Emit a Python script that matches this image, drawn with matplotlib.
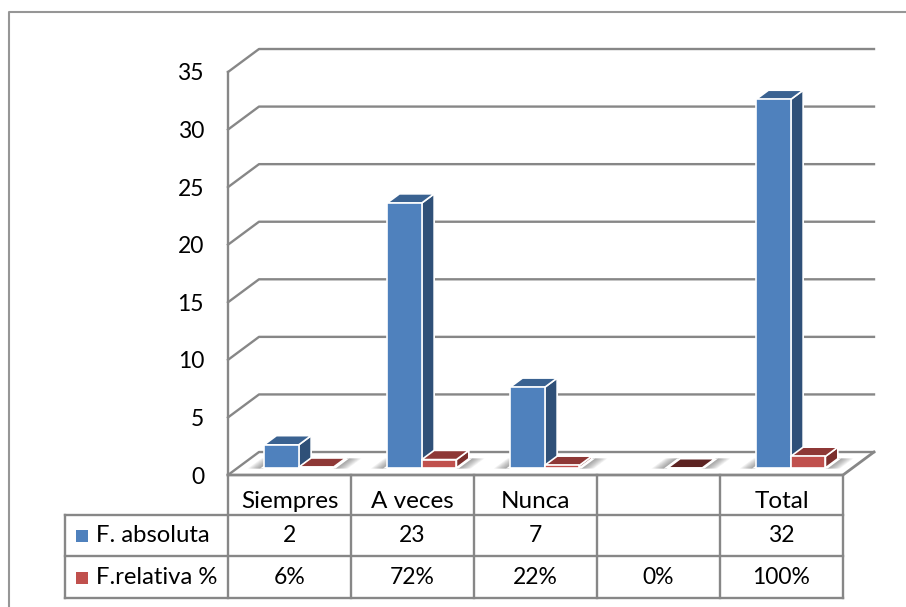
import numpy as np
import matplotlib
matplotlib.use("Agg")
import matplotlib.pyplot as plt
from matplotlib.patches import Polygon, Rectangle

plt.rcParams['font.family'] = ['Lato', 'DejaVu Sans']

categories = ["Siempres", "A veces", "Nunca", "", "Total"]
absoluta = [2, 23, 7, None, 32]
relativa = [0.06, 0.72, 0.22, 0.0, 1.0]
absoluta_labels = ["2", "23", "7", "", "32"]
relativa_labels = ["6%", "72%", "22%", "0%", "100%"]
legend_names = ["F. absoluta", "F.relativa %"]
yticks = [0, 5, 10, 15, 20, 25, 30, 35]

W, H = 906, 607
GRAY = "#878787"
DX = 31 / 123   # depth of the floor, in axis units
DY = 23 / 57.6 * 5
blue = ("#4f81bd", "#3a6291", "#2f5078")
red = ("#c0504d", "#8e3836", "#7b2f2d")

fig = plt.figure(figsize=(W / 100, H / 100), dpi=100)

# page layer in pixels: frame and table
pg = fig.add_axes([0, 0, 1, 1])
pg.set_xlim(0, W)
pg.set_ylim(H, 0)
pg.axis("off")

pg.plot([9, 9, 906], [607, 12, 12], color="#969696", lw=1.5, zorder=1)

col_x = [228, 351, 474, 597, 720, 843]
row_y = [475, 515, 556, 598]
for x in col_x:
    pg.plot([x, x], [475, 598], color=GRAY, lw=1.7)
pg.plot([65, 65], [515, 598], color=GRAY, lw=1.7)
for y in row_y[1:]:
    pg.plot([65, 843], [y, y], color=GRAY, lw=1.7)

fs = 17.5    # words
fn = 16.5    # numbers
for i in range(5):
    cx = (col_x[i] + col_x[i + 1]) / 2
    pg.text(cx, 501, categories[i], ha="center", va="center", fontsize=fs)
    pg.text(cx, 536, absoluta_labels[i], ha="center", va="center", fontsize=fn)
    pg.text(cx, 578, relativa_labels[i], ha="center", va="center", fontsize=fn)
for name, y, c in zip(legend_names, [535.5, 577.5], [blue[0], red[0]]):
    pg.add_patch(Rectangle((76, y - 6), 12, 12, color=c, lw=0))
    pg.text(96, y, name, ha="left", va="center", fontsize=fs - 0.3)

# chart axes sit on the front plane of the 3d box
ax = fig.add_axes([228 / W, (H - 475) / H, 615 / W, 403 / H], facecolor="none")
ax.set_xlim(0, 5)
ax.set_ylim(0, 35)
ax.axis("off")


def pt(x, y, d):
    return (x + d * DX, y + d * DY)


for v in yticks:
    pts = [pt(0, v, 0), pt(0, v, 1), pt(5, v, 1)]
    ax.plot(*zip(*pts), color=GRAY, lw=1.7, clip_on=False, zorder=1)
    ax.annotate(str(v), (0, v), xytext=(-24, -2), textcoords="offset pixels",
                ha="right", va="center", fontsize=fn, annotation_clip=False)
ax.plot([0, 0], [0, 35], color=GRAY, lw=1.7, clip_on=False, zorder=1)
ax.plot(*zip(*[pt(0, 0, 0), pt(5, 0, 0), pt(5, 0, 1)]), color=GRAY, lw=2, clip_on=False, zorder=1)


def shadow(x0, x1):
    # soft grey wedges on the floor either side of a bar group
    d0, d1 = 0.28, 0.72
    for k in range(10):
        g = 0.025 + (9 - k) * 0.011
        for a, b in ((x0 - g, x0), (x1, x1 + g)):
            ax.add_patch(Polygon([pt(a, 0, d0), pt(b, 0, d0), pt(b, 0, d1), pt(a, 0, d1)],
                                 color="#6a6a6a", alpha=0.085, lw=0, clip_on=False, zorder=2))
    # white halo around the bars
    ax.add_patch(Polygon([pt(x0 - 0.025, 0, d0), pt(x1 + 0.025, 0, d0), pt(x1 + 0.025, 0, d1), pt(x0 - 0.025, 0, d1)],
                         color="white", lw=0, clip_on=False, zorder=2.5))


def bar3d(x0, w, v, cols, z):
    d0, d1 = 0.31, 0.71
    if v is None:
        return
    x1 = x0 + w
    e = dict(ec="white", lw=1.2, clip_on=False, zorder=z, joinstyle="round")
    if v == 0:
        ax.add_patch(Polygon([pt(x0, 0, d0), pt(x1, 0, d0), pt(x1, 0, d1), pt(x0, 0, d1)], fc="#5c2322", **e))
        return
    ax.add_patch(Polygon([pt(x1, 0, d0), pt(x1, 0, d1), pt(x1, v, d1), pt(x1, v, d0)], fc=cols[2], **e))
    ax.add_patch(Polygon([pt(x0, v, d0), pt(x1, v, d0), pt(x1, v, d1), pt(x0, v, d1)], fc=cols[1], **e))
    ax.add_patch(Polygon([pt(x0, 0, d0), pt(x1, 0, d0), pt(x1, v, d0), pt(x0, v, d0)], fc=cols[0], **e))


bw = 0.282
for i in range(5):
    x0 = i + 0.215
    if absoluta[i] is None:
        shadow(x0 + bw, x0 + 2 * bw)
    else:
        shadow(x0, x0 + 2 * bw)
    bar3d(x0, bw, absoluta[i], blue, 3 + i)
    bar3d(x0 + bw, bw, relativa[i], red, 3.5 + i)

fig.savefig("out.png", dpi=100)
